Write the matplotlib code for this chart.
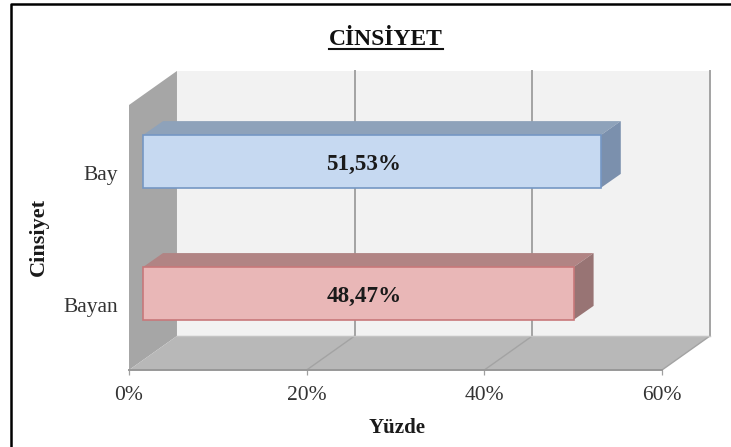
import matplotlib
matplotlib.use("Agg")
import matplotlib.pyplot as plt
from matplotlib.lines import Line2D
from matplotlib.patches import Polygon

# ─── Data ───────────────────────────────────────────────
categories = ["Bayan", "Bay"]
values = [48.47, 51.53]
value_labels = ["48,47%", "51,53%"]
x_ticks = [0, 20, 40, 60]
x_tick_labels = ["0%", "20%", "40%", "60%"]

front_colors = ["#e9b7b7", "#c6d9f1"]
top_colors = ["#b18484", "#8ea2ba"]
side_colors = ["#987474", "#7b90ad"]
edge_colors = ["#c8787a", "#7597c4"]

W, H = 731, 447
plt.rcParams["font.family"] = ["Liberation Serif", "DejaVu Serif"]

fig = plt.figure(figsize=(W / 100, H / 100), dpi=100)
# axes box = front of the 3D floor / left wall, in pixels
ax = fig.add_axes([129 / W, 1 - 370 / H, (662 - 129) / W, (370 - 105) / H])
ax.set_xlim(0, 60)
ax.set_ylim(-0.58, 1.428)
for s in ax.spines.values():
    s.set_visible(False)
ax.patch.set_visible(False)

# 3D depth of the chart box, and of the bars, in data units
dx, dy = 5.4, 0.258
bar_dx, bar_dy = 2.25, 0.106
bar_start = 1.58
bar_h = 0.4
top = 1.428
bottom = -0.58
grid_c = "#a3a3a3"

# walls and floor
ax.add_patch(Polygon([(dx, bottom + dy), (60 + dx, bottom + dy), (60 + dx, top + dy), (dx, top + dy)],
                     fc="#f2f2f2", ec="none", clip_on=False, zorder=1))
ax.add_patch(Polygon([(0, bottom), (dx, bottom + dy), (dx, top + dy), (0, top)],
                     fc="#a6a6a6", ec="none", clip_on=False, zorder=2))
ax.add_patch(Polygon([(0, bottom), (60, bottom), (60 + dx, bottom + dy), (dx, bottom + dy)],
                     fc="#b8b8b8", ec="none", clip_on=False, zorder=2))

# gridlines: up the back wall and across the floor
for t in x_ticks[1:]:
    ax.plot([t + dx, t + dx], [bottom + dy, top + dy], color=grid_c, lw=1.4, clip_on=False, zorder=3)
    ax.plot([t, t + dx], [bottom, bottom + dy], color=grid_c, lw=1.0, clip_on=False, zorder=3)
ax.plot([dx, 60 + dx], [bottom + dy, bottom + dy], color="#c4c4c4", lw=1.0, clip_on=False, zorder=3)
ax.plot([0, 60], [bottom, bottom], color="#989898", lw=1.4, clip_on=False, zorder=3)

# bars
for i, v in enumerate(values):
    x0, x1 = bar_start, bar_start + v
    y0, y1 = i - bar_h / 2, i + bar_h / 2
    ax.add_patch(Polygon([(x0, y1), (x1, y1), (x1 + bar_dx, y1 + bar_dy), (x0 + bar_dx, y1 + bar_dy)],
                         fc=top_colors[i], ec="none", clip_on=False, zorder=4))
    ax.add_patch(Polygon([(x1, y0), (x1 + bar_dx, y0 + bar_dy), (x1 + bar_dx, y1 + bar_dy), (x1, y1)],
                         fc=side_colors[i], ec="none", clip_on=False, zorder=4))
ax.barh(range(len(values)), values, height=bar_h, left=bar_start, color=front_colors,
        edgecolor=edge_colors, linewidth=1.2, zorder=5)

for i, lab in enumerate(value_labels):
    ax.text(26.45, i - 0.02, lab, ha="center", va="center", fontsize=16.7,
            fontweight="bold", color="#1a1a1a", zorder=6)

# axes ticks and labels
ax.set_xticks(x_ticks)
ax.set_xticklabels(x_tick_labels, fontsize=15.5, color="#333333")
ax.tick_params(axis="x", length=3.5, width=0.9, color="#a0a0a0", pad=8)
ax.set_yticks([p - 0.085 for p in range(len(categories))])
ax.set_yticklabels(categories, fontsize=15.5, color="#333333")
ax.tick_params(axis="y", length=0, pad=8)

fig.text(397 / W, 1 - 428 / H, "Yüzde", ha="center", va="center", fontsize=15,
         fontweight="bold", color="#1a1a1a")
fig.text(39 / W, 1 - 237 / H, "Cinsiyet", ha="center", va="center", rotation=90,
         fontsize=16, fontweight="bold", color="#1a1a1a")
fig.text(386 / W, 1 - 45 / H, "CİNSİYET", ha="center", va="baseline", fontsize=17,
         fontweight="bold", color="#111111")
fig.add_artist(Line2D([329 / W, 443 / W], [1 - 48.5 / H, 1 - 48.5 / H], color="#111111", lw=1.5))

# black frame, left and top only
fig.add_artist(Line2D([11 / W, 11 / W, 1], [0, 1 - 4 / H, 1 - 4 / H], color="black", lw=1.8))

fig.savefig("out.png", dpi=100)
